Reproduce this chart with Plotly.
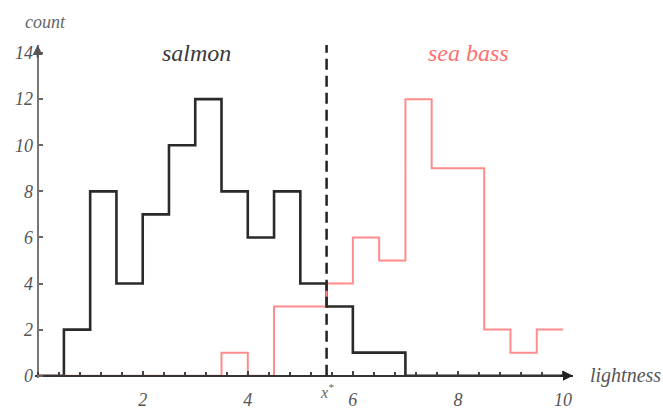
import plotly.graph_objects as go

# ---- data ----
bin_edges = [i * 0.5 for i in range(21)]  # 0.0 .. 10.0
salmon_counts = [0, 2, 8, 4, 7, 10, 12, 8, 6, 8, 4, 3, 1, 1, 0, 0, 0, 0, 0, 0]
seabass_counts = [0, 0, 0, 0, 0, 0, 0, 1, 0, 3, 3, 4, 6, 5, 12, 9, 9, 2, 1, 2]
x_star = 5.5
x_tickvals = [2, 4, 6, 8, 10]
y_tickvals = [0, 2, 4, 6, 8, 10, 12, 14]

XMAX = 10.19
YMAX = 14.35
XMIN = -0.05
YMIN = -0.1

serif = "Liberation Serif"

fig = go.Figure()
fig.add_trace(go.Scatter(
    x=bin_edges, y=salmon_counts + [salmon_counts[-1]],
    mode="lines", line=dict(shape="hv", color="#2a2a2a", width=2.6),
    showlegend=False, hoverinfo="skip"))
fig.add_trace(go.Scatter(
    x=bin_edges, y=seabass_counts + [seabass_counts[-1]],
    mode="lines", line=dict(shape="hv", color="#ff8c8c", width=2),
    showlegend=False, hoverinfo="skip"))

xpos = (0 - YMIN) / (YMAX - YMIN)
ypos = (0 - XMIN) / (XMAX - XMIN)

fig.update_layout(
    width=663, height=410,
    margin=dict(l=35, r=90, t=45, b=32, autoexpand=False),
    paper_bgcolor="white", plot_bgcolor="white",
    xaxis=dict(range=[XMIN, XMAX], anchor="free", position=xpos,
               showgrid=False, zeroline=False,
               showline=True, linecolor="#333", linewidth=2,
               tickmode="array", tickvals=x_tickvals,
               ticktext=[str(v) for v in x_tickvals],
               ticks="inside", ticklen=4, tickcolor="#444", tickwidth=1.5,
               ticklabelstandoff=8,
               tickfont=dict(family=serif, size=18, color="#555", style="italic"),
               minor=dict(tickmode="linear", tick0=0, dtick=0.4, ticks="inside",
                          ticklen=3, tickcolor="#444", tickwidth=1.5)),
    yaxis=dict(range=[YMIN, YMAX], anchor="free", position=ypos,
               showgrid=False, zeroline=False,
               showline=True, linecolor="#777", linewidth=2,
               tickmode="array", tickvals=y_tickvals,
               ticktext=[str(v) for v in y_tickvals],
               ticks="inside", ticklen=4, tickcolor="#666", tickwidth=1.5,
               tickfont=dict(family=serif, size=18, color="#555", style="italic")),
    shapes=[dict(type="line", xref="x", yref="y", x0=x_star, x1=x_star,
                 y0=0, y1=YMAX, line=dict(color="#222", width=2.5, dash="11px,6px"))],
    annotations=[
        # axis arrows
        dict(xref="paper", yref="paper", x=1, y=xpos, ax=-14, ay=0, text="",
             showarrow=True, arrowhead=2, arrowsize=1, arrowwidth=2, arrowcolor="#222"),
        dict(xref="paper", yref="paper", x=ypos, y=1, ax=0, ay=14, text="",
             showarrow=True, arrowhead=2, arrowsize=1, arrowwidth=2, arrowcolor="#555"),
        # labels
        dict(xref="paper", yref="paper", x=0.019, y=1.07, xanchor="center", yanchor="middle",
             text="count", showarrow=False,
             font=dict(family=serif, size=18, color="#666", style="italic")),
        dict(xref="paper", yref="paper", x=1.027, y=xpos, xanchor="left", yanchor="middle",
             text="lightness", showarrow=False,
             font=dict(family=serif, size=20, color="#555", style="italic")),
        dict(xref="paper", yref="paper", x=0.301, y=0.976, xanchor="center", yanchor="middle",
             text="salmon", showarrow=False,
             font=dict(family=serif, size=24, color="#3a3a3a", style="italic")),
        dict(xref="paper", yref="paper", x=0.805, y=0.976, xanchor="center", yanchor="middle",
             text="sea bass", showarrow=False,
             font=dict(family=serif, size=24, color="#ff6f6f", style="italic")),
        dict(xref="x", yref="y", x=x_star, y=0, xanchor="center", yanchor="top", yshift=-3,
             text="x<sup>*</sup>", showarrow=False,
             font=dict(family=serif, size=16, color="#666", style="italic")),
    ],
)

fig.write_html("out.html", config={"displayModeBar": False},
               post_script="document.body.style.margin='0';document.body.style.padding='0';")
